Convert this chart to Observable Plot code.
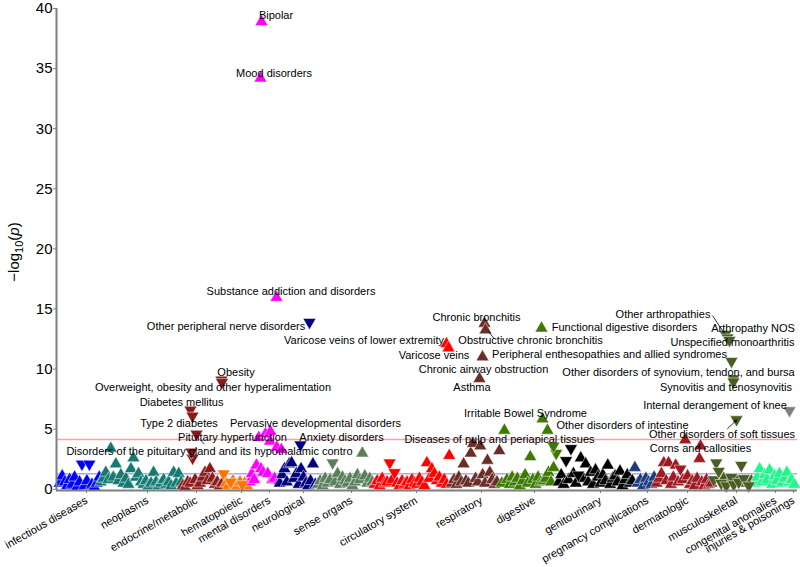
<!DOCTYPE html>
<html><head><meta charset="utf-8">
<script src="https://cdn.jsdelivr.net/npm/d3@7"></script>
<script src="https://cdn.jsdelivr.net/npm/@observablehq/plot@0.6"></script>
<style>
body{margin:0;background:#fff;}
svg{font-family:"Liberation Sans",Arial,Helvetica,sans-serif;}
</style>
</head><body><div id="chart"></div>
<script>
// ---- Categories (PheWAS groups) ----
const categories = ["infectious diseases","neoplasms","endocrine/metabolic","hematopoietic","mental disorders","neurological","sense organs","circulatory system","respiratory","digestive","genitourinary","pregnancy complications","dermatologic","musculoskeletal","congenital anomalies","injuries & poisonings"];
const catColors = ["#0000FF","#147A72","#8B1A1A","#FF7400","#FF00FF","#000080","#5A7F5A","#FF0000","#6B2D28","#3D7B00","#000000","#1B3C7F","#9E1B22","#4A5E23","#22F58C","#7F7F7F"];
// phenotype order range of each category
const catStart = [2,43,125,166,192,222,260,317,394,444,501,577,599,656,697,729];
const catEnd   = [44,126,167,194,226,260,317,394,444,501,577,599,656,696,739,741];
// tick positions (category centres)
const tickPositions = [27,88,137,182,210,244,292,357,422,475,541,588,628,677,716,734];
// background phenotypes: -log10(p); negative sign = negative effect (down triangle)
const bgLogP = [
  [0.5,1.1,0.6,0.3,0.8,0.4,1.0,0.2,0.6,-2.1,0.3,0.7,-2.1,0.4,0.2,0.5,1.0],
  [0.6,0.9,1.4,0.8,3.4,1.0,2.1,0.7,1.2,0.5,0.9,0.4,1.7,2.6,1.0,1.3,0.6,0.4,0.7,0.3,0.5,1.4,0.6,0.3,0.5,0.8,0.4,0.6,0.3,1.4,0.5,1.3,0.6],
  [0.3,0.2,0.6,0.5,-2.6,0.8,0.3,0.5,1.0,1.4,0.7,1.7,0.9,0.4,0.6,0.3,0.5],
  [-1.3,0.5,0.3,-0.6,0.7,0.4,0.3,0.6,-0.4,0.5,0.3,0.7],
  [0.6,1.3,0.8,2.0,4.3,1.7,1.4,4.6,1.3,4.0,0.8,0.9,3.5,0.7,3.3],
  [0.5,1.2,1.7,0.6,2.1,2.2,0.9,1.3,0.4,1.7,1.0,0.5,0.3,0.7,2.1,0.4],
  [0.4,0.7,0.3,0.9,0.5,0.8,-2.2,0.6,1.3,0.4,1.0,0.7,0.5,0.9,0.3,0.6,1.2,0.8,3.0,1.1,0.5,0.9,0.6],
  [0.4,0.7,0.3,0.9,0.5,0.6,-2.2,0.8,-1.4,0.5,0.3,0.7,0.4,0.6,0.3,0.8,0.5,0.4,0.9,0.6,0.3,2.2,0.9,1.7,1.3,0.7,1.0,0.5,0.8,0.4,2.8],
  [0.5,0.8,0.4,1.0,0.6,2.1,0.7,0.5,3.0,3.8,0.9,0.6,3.6,1.2,0.5,2.4,1.4,0.8,0.4,0.6,3.2],
  [0.5,4.9,0.8,0.4,1.0,0.6,0.9,0.3,0.7,1.2,0.5,2.7,0.8,0.4,1.0,0.6,0.7,0.9,1.4,0.6,1.8,-3.0],
  [0.6,1.2,0.4,-2.4,0.8,-3.4,1.3,0.5,-1.2,2.6,0.9,2.1,0.6,1.4,0.4,1.6,1.0,0.5,1.2,0.7,2.0,0.4,0.9,1.1,0.6,1.5,0.3,0.8,1.2,0.5,0.7],
  [1.8,0.5,0.8,0.3,0.9,0.6,0.4,1.0],
  [0.5,0.9,1.3,2.2,0.7,2.2,0.4,1.0,2.0,0.6,-1.7,0.8,4.1,1.1,0.4,0.7,0.3,0.9,2.55,0.6,0.3,0.8,0.4,0.5],
  [-0.8,-2.2,-1.5,-0.5,0.9,-0.3,0.6,-1.0,-0.4,0.8,-0.6,-2.0,-0.9,0.5,-0.3,0.7],
  [0.5,1.0,1.7,0.6,1.2,0.8,1.6,0.4,1.1,0.7,1.3,0.5,0.9,1.4,0.6,0.8,0.4],
  []
];
// ---- annotated phenotypes ----
const annLabels = ["Bipolar","Mood disorders","Substance addiction and disorders","Other peripheral nerve disorders","Varicose veins of lower extremity","Varicose veins","Chronic bronchitis","Obstructive chronic bronchitis","Chronic airway obstruction","Asthma","Functional digestive disorders","Irritable Bowel Syndrome","Other disorders of intestine","Diseases of pulp and periapical tissues","Other arthropathies","Arthropathy NOS","Unspecified monoarthritis","Peripheral enthesopathies and allied syndromes","Other disorders of synovium, tendon, and bursa","Synovitis and tenosynovitis","Other disorders of soft tissues","Internal derangement of knee","Corns and callosities","Obesity","Overweight, obesity and other hyperalimentation","Diabetes mellitus","Type 2 diabetes","Pituitary hyperfunction","Disorders of the pituitary gland and its hypothalamic contro","Pervasive developmental disorders","Anxiety disorders"];
const annCategory = [4,4,4,5,7,7,8,8,8,8,9,9,9,9,13,13,13,13,13,13,13,15,12,2,2,2,2,2,2,4,5];
const annPosition = [205,204,220,253,390,392,428,429,426,423,485,486,491,497,669,671,673,675,677,677,680,733,644,165,165.5,134,136,140,135,214,244];
const annLogP     = [38.9,34.2,15.95,13.9,12.1,11.75,13.8,13.25,11.0,9.2,13.4,5.85,4.9,3.6,12.9,12.6,12.4,10.65,9.2,8.95,5.8,6.55,3.6,9.1,8.9,6.6,6.1,4.6,3.1,4.8,3.7];
const annDirection = ["up","up","up","down","up","up","up","up","up","up","up","up","up","down","down","down","down","down","down","down","down","down","up","down","down","down","down","down","down","up","down"];
// label placement (repelled text centre)
const labelPosition = [219.5,217.5,234.5,169.5,307.5,377.5,420,474,427,415.5,568,469,566,443,606.5,696.5,676,553,622,669.5,665.5,658.5,644,179.5,156.5,125,122.5,176,153,259,285];
const labelLogP     = [39.4,34.6,16.45,13.55,12.4,11.1,14.3,12.4,10.0,8.45,13.5,6.35,5.3,4.15,14.55,13.4,12.25,11.2,9.75,8.5,4.6,7.0,3.4,9.75,8.45,7.2,5.45,4.3,3.15,5.45,4.3];
// connector segments
const segFrom = [[438,12.5],[656,14.45],[148,3.75]];
const segTo   = [[432,13.1],[668,12.95],[144,4.1]];
const arrowFrom = [[671,5.04]];
const arrowTo   = [[680,5.75]];
const bonferroni = 4.14, nominal = 1.3;
const yTicks = [0,5,10,15,20,25,30,35,40];

// ---- build tables ----
const rows = [];
categories.forEach((c, k) => {
  const vals = bgLogP[k], n = vals.length, step = (catEnd[k]-catStart[k]) / Math.max(n,1);
  vals.forEach((v, i) => rows.push({cat: c, pos: catStart[k] + (i + 0.5) * step, logp: Math.abs(v), dir: v < 0 ? "down" : "up"}));
});
const ann = annLabels.map((l, i) => ({label: l, cat: categories[annCategory[i]], pos: annPosition[i], logp: annLogP[i], dir: annDirection[i], lx: labelPosition[i], ly: labelLogP[i]}));
const allPts = rows.concat(ann);
const segs = segFrom.map((f, i) => ({x1: f[0], y1: f[1], x2: segTo[i][0], y2: segTo[i][1]}));
const arrows = arrowFrom.map((f, i) => ({x1: f[0], y1: f[1], x2: arrowTo[i][0], y2: arrowTo[i][1]}));
const nameAt = new Map(tickPositions.map((p, i) => [p, categories[i]]));

const downTriangle = {
  draw(context, size) {
    const s3 = Math.sqrt(3);
    const y = -Math.sqrt(size / (s3 * 3));
    context.moveTo(0, -y * 2);
    context.lineTo(-s3 * y, y);
    context.lineTo(s3 * y, y);
    context.closePath();
  }
};

const yMin = -0.1, yMax = 40.0;
const plot = Plot.plot({
  width: 800, height: 567,
  marginLeft: 56, marginRight: 3, marginTop: 8, marginBottom: 77,
  x: {domain: [0, 741], axis: null},
  y: {domain: [yMin, yMax], axis: null},
  color: {domain: categories, range: catColors},
  marks: [
    Plot.ruleY([bonferroni], {stroke: "#FF9F9F", strokeWidth: 1.5}),
    Plot.ruleY([nominal], {stroke: "#A6A6FF", strokeWidth: 1.5}),
    Plot.dot(allPts.filter(d => d.dir === "up"), {x: "pos", y: "logp", fill: "cat", symbol: "triangle", r: 4.8, stroke: "white", strokeWidth: 0.5}),
    Plot.dot(allPts.filter(d => d.dir === "down"), {x: "pos", y: "logp", fill: "cat", symbol: downTriangle, r: 4.8, stroke: "white", strokeWidth: 0.5}),
    Plot.link(segs, {x1: "x1", y1: "y1", x2: "x2", y2: "y2", stroke: "black", strokeWidth: 0.8}),
    Plot.arrow(arrows, {x1: "x1", y1: "y1", x2: "x2", y2: "y2", stroke: "black", strokeWidth: 0.8, headLength: 5}),
    Plot.text(ann, {x: "lx", y: "ly", text: "label", fontSize: 11, fill: "black", textAnchor: "middle"}),
    Plot.axisY({ticks: yTicks, tickSize: 3, tickPadding: 1, fontSize: 15, label: null, stroke: "#7F7F7F"}),
    Plot.axisX({ticks: tickPositions, tickFormat: d => nameAt.get(d), tickRotate: -30, fontSize: 11, tickSize: 3, tickPadding: 6, dx: 3, label: null, stroke: "#7F7F7F"}),
    Plot.ruleX([0], {stroke: "#7F7F7F", strokeWidth: 2}),
    Plot.ruleY([yMin], {stroke: "#7F7F7F", strokeWidth: 2})
  ]
});
document.getElementById("chart").appendChild(plot);

const svg = d3.select(plot);
const t = svg.append("text")
  .attr("transform", "translate(19,252) rotate(-90)")
  .attr("text-anchor", "middle").attr("font-size", 15).attr("fill", "black");
t.append("tspan").text("−log");
t.append("tspan").attr("font-size", 11).attr("dy", 4).text("10");
t.append("tspan").attr("dy", -4).text("(");
t.append("tspan").attr("font-style", "italic").text("p");
t.append("tspan").text(")");
</script>
</body></html>
